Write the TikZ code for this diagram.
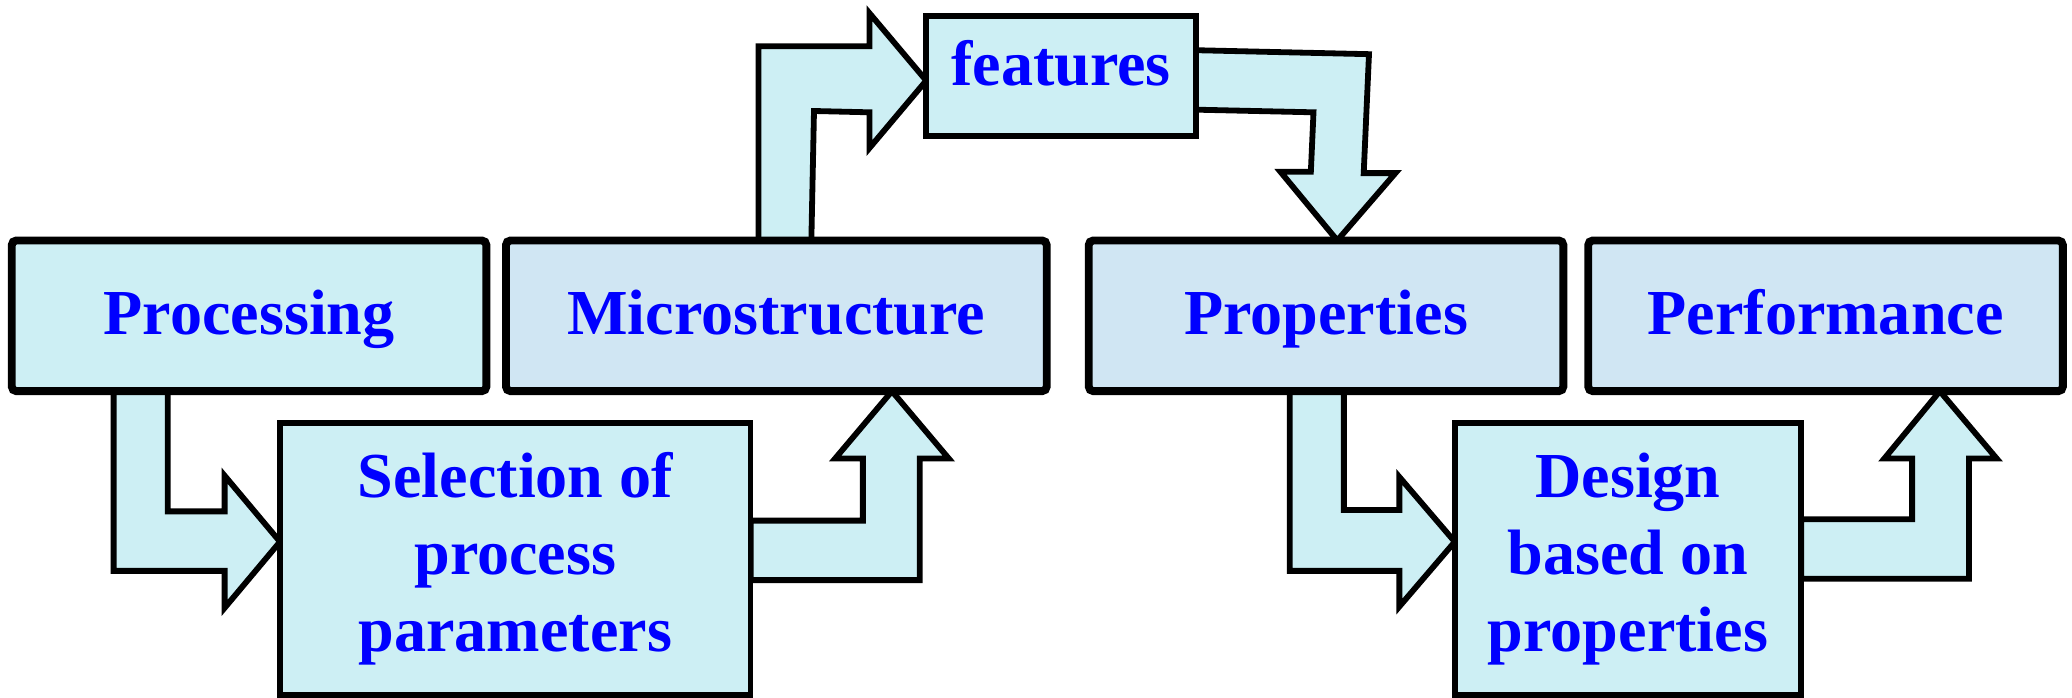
\documentclass[tikz,border=0pt]{standalone}
\usepackage{fontspec}
\setmainfont{Liberation Serif}
\usepackage{tikz}
\usetikzlibrary{backgrounds}

\definecolor{cyanfill}{RGB}{205,239,244}
\definecolor{bluefill}{RGB}{208,230,243}
\definecolor{txtblue}{RGB}{0,0,255}

\tikzset{
	txt/.style={text=txtblue, font=\bfseries\fontsize{13.8}{16.6}\selectfont},
	topbox/.style={txt, draw, line width=1.7pt, rounded corners=1pt, minimum height=1.14cm, outer sep=0pt, text height=0.95em, text depth=0.13em},
	lowbox/.style={txt, draw, line width=1.2pt, fill=cyanfill, align=center, outer sep=0pt},
	blkarrow/.style={draw, line width=1.25pt, fill=cyanfill, miter limit=20}
}

\begin{document}
\begin{tikzpicture}[x=0.01cm, y=-0.01cm]
		\useasboundingbox (0,0) rectangle (1568,527.5);
		% top row
		\node[topbox, fill=cyanfill, minimum width=3.59cm] (proc) at (188.5,239) {Processing};
		\node[topbox, fill=bluefill, minimum width=4.09cm] (micro) at (587.5,239) {Microstructure};
		\node[topbox, fill=bluefill, minimum width=3.59cm] (prop) at (1003.5,239) {Properties};
		\node[topbox, fill=bluefill, minimum width=3.59cm] (perf) at (1381.5,239) {Performance};
		% features box
		\node[lowbox, minimum width=2.04cm, minimum height=0.91cm, text height=0.7em, text depth=0.31em] (feat) at (803,57.5) {features};
		% lower boxes
		\node[lowbox, minimum width=3.56cm, minimum height=2.06cm] (sel) at (390,423) {Selection of\\process\\parameters};
		\node[lowbox, minimum width=2.62cm, minimum height=2.06cm] (des) at (1232,423) {Design\\based on\\properties};
		% block arrows
		\begin{scope}[on background layer]
		\draw[blkarrow] (proc.south -| 127,0) -- (127,387) -- (170,387) -- (170,360) -- (sel.west |- 0,410)
			-- (170,460) -- (170,432) -- (86,432) -- (proc.south -| 86,0) -- cycle;
		\draw[blkarrow] (sel.east |- 0,394) -- (653,394) -- (653,347) -- (632,347) -- (micro.south -| 675,0)
			-- (718,347) -- (696,347) -- (696,439) -- (sel.east |- 0,439) -- cycle;
		\draw[blkarrow] (micro.north -| 574,0) -- (574,35) -- (658,35) -- (658,10) -- (feat.west |- 0,61)
			-- (658,112) -- (658,85) -- (616,84) -- (micro.north -| 614,0) -- cycle;
		\draw[blkarrow] (feat.east |- 0,38) -- (1036,41) -- (1032,131) -- (1056,131) -- (prop.north -| 1012,0)
			-- (969,130) -- (992,130) -- (994,85) -- (feat.east |- 0,83) -- cycle;
		\draw[blkarrow] (prop.south -| 1017,0) -- (1017,386) -- (1059,386) -- (1059,361) -- (des.west |- 0,410)
			-- (1059,459) -- (1059,432) -- (976,432) -- (prop.south -| 976,0) -- cycle;
		\draw[blkarrow] (des.east |- 0,393) -- (1447,393) -- (1447,347) -- (1426,347) -- (perf.south -| 1468,0)
			-- (1511,347) -- (1490,347) -- (1490,438) -- (des.east |- 0,438) -- cycle;
		\end{scope}
	\end{tikzpicture}
\end{document}
